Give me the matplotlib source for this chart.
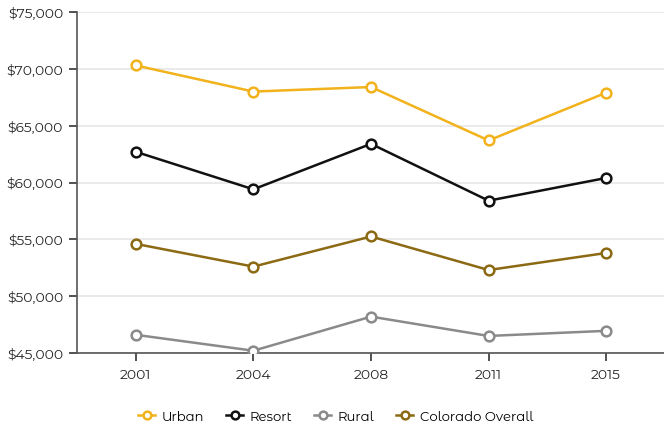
import matplotlib
matplotlib.use("Agg")
import matplotlib.pyplot as plt
import numpy as np
from matplotlib.ticker import FuncFormatter

years = ["2001", "2004", "2008", "2011", "2015"]
urban = [70300, 68000, 68400, 63700, 67900]
resort = [62700, 59400, 63400, 58400, 60400]
rural = [46600, 45200, 48200, 46500, 46950]
colorado = [54600, 52600, 55250, 52300, 53800]

SERIES = [
    ("Urban", urban, "#f2b21b"),
    ("Resort", resort, "#111111"),
    ("Rural", rural, "#8a8a8a"),
    ("Colorado Overall", colorado, "#8c6a14"),
]

plt.rcParams["font.family"] = ["Montserrat Alternates", "Noto Sans", "DejaVu Sans"]
plt.rcParams["font.weight"] = 400

fig = plt.figure(figsize=(6.64, 4.27), dpi=100)
ax = fig.add_axes([77 / 664, 1 - 354 / 427, 588 / 664, 341 / 427])

x = np.arange(len(years))
for name, vals, col in SERIES:
    ax.plot(x, vals, "-o", color=col, lw=1.8, ms=7, mfc="white",
            mec=col, mew=1.8, label=name, zorder=3)

ax.set_xlim(-0.5, len(years) - 0.5)
ax.set_ylim(45000, 75000)
ax.set_yticks(np.arange(45000, 75001, 5000))
ax.yaxis.set_major_formatter(FuncFormatter(lambda v, _: f"${v:,.0f}"))
ax.set_xticks(x)
ax.set_xticklabels(years)

ax.grid(axis="y", color="#e6e6e6", lw=1.2, zorder=0)
for side in ("top", "right"):
    ax.spines[side].set_visible(False)
ax.spines["left"].set_color("#555555")
ax.spines["bottom"].set_color("#555555")
ax.spines["left"].set_linewidth(1.2)
ax.spines["bottom"].set_linewidth(1.2)
ax.tick_params(axis="both", colors="#333333", labelsize=10, length=6,
               width=1.2, labelcolor="#222222")
ax.tick_params(axis="y", pad=4)
ax.tick_params(axis="x", pad=5)

ax.legend(loc="upper center", bbox_to_anchor=(0.44, -0.132), ncol=4,
          frameon=False, fontsize=9.5, handlelength=1.27, handletextpad=0.5,
          columnspacing=1.67, markerscale=0.8)

fig.savefig("out.png", dpi=100)
